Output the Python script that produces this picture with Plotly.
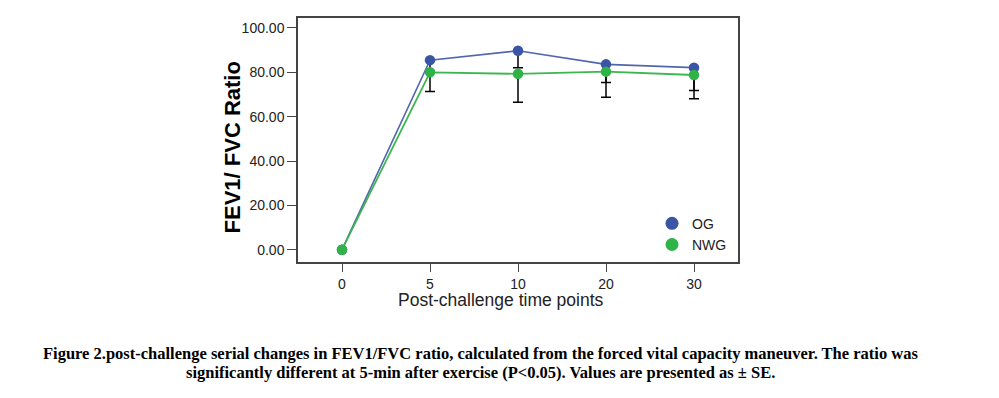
import plotly.graph_objects as go

# ---- data ----
time_points = ["0", "5", "10", "20", "30"]
og_values = [0.0, 85.5, 89.7, 83.6, 82.1]
nwg_values = [0.0, 80.0, 79.3, 80.3, 78.8]
og_se_minus = [0.0, 5.0, 7.6, 8.2, 10.3]
nwg_se_minus = [0.0, 8.7, 12.8, 11.6, 10.7]
series_names = ["OG", "NWG"]
y_ticks = [0, 20, 40, 60, 80, 100]

caption_line1 = ("Figure 2.post-challenge serial changes in FEV1/FVC ratio, calculated from the forced "
                 "vital capacity maneuver. The ratio was")
caption_line2 = "significantly different at 5-min after exercise (P<0.05). Values are presented as ± SE."

BLUE = "#3b55a6"
GREEN = "#2fb347"
SANS = "Liberation Sans, Arial, sans-serif"
SERIF = "Liberation Serif, Times New Roman, serif"

# page body has a default 8px margin: work in window pixels, shift by OFF
OFF = 8
W, H = 999 - OFF, 398 - OFF
L, R, T, B = 298 - OFF, 261, 16 - OFF, 136
pw, ph = W - L - R, H - T - B


def px_x(x):
    return (x - OFF - L) / pw


def px_y(y):
    return (H - B - (y - OFF)) / ph


fig = go.Figure()


def err(minus):
    return dict(type="data", symmetric=False, array=[0] * len(minus), arrayminus=minus,
                color="black", thickness=1.5, width=5, visible=True)


fig.add_trace(go.Scatter(
    x=time_points, y=og_values, mode="lines+markers", name=series_names[0],
    line=dict(color="#5067ad", width=1.6),
    marker=dict(color=BLUE, size=10.5),
    error_y=err(og_se_minus), showlegend=False))
fig.add_trace(go.Scatter(
    x=time_points, y=nwg_values, mode="lines+markers", name=series_names[1],
    line=dict(color="#3cb64f", width=1.8),
    marker=dict(color=GREEN, size=10.5),
    error_y=err(nwg_se_minus), showlegend=False))

# legend-only entries (markers only)
fig.add_trace(go.Scatter(x=[None], y=[None], mode="markers", name=series_names[0],
                         marker=dict(color=BLUE, size=13)))
fig.add_trace(go.Scatter(x=[None], y=[None], mode="markers", name=series_names[1],
                         marker=dict(color=GREEN, size=13)))

fig.update_layout(
    width=W, height=H,
    margin=dict(l=L, r=R, t=T, b=B),
    paper_bgcolor="white", plot_bgcolor="white",
    font=dict(family=SANS, color="#222222", size=14),
    showlegend=True,
    legend=dict(x=px_x(652), y=px_y(234), xanchor="left", yanchor="middle",
                bgcolor="rgba(0,0,0,0)", font=dict(size=14, color="#222222"),
                itemsizing="trace", tracegroupgap=0),
    xaxis=dict(type="category", range=[-0.5, 4.5], showgrid=False, zeroline=False,
               showline=True, linecolor="#444444", linewidth=1.5, mirror=True,
               ticks="outside", ticklen=8, tickwidth=1.2, tickcolor="#444444",
               tickfont=dict(size=14, color="#222222")),
    yaxis=dict(range=[-5.55, 104.5], tickvals=y_ticks, tickformat=".2f",
               showgrid=False, zeroline=False,
               showline=True, linecolor="#444444", linewidth=1.5, mirror=True,
               ticks="outside", ticklen=9, tickwidth=1.2, tickcolor="#444444",
               tickfont=dict(size=14, color="#222222")),
)

annotations = [
    dict(text="FEV1/ FVC Ratio", textangle=-90, xref="paper", yref="paper",
         x=px_x(232), y=px_y(146.5), xanchor="center", yanchor="middle", showarrow=False,
         font=dict(family=SANS, size=22, color="black", weight="bold")),
    dict(text="Post-challenge time points", xref="paper", yref="paper",
         x=px_x(500), y=px_y(300), xanchor="center", yanchor="middle", showarrow=False,
         font=dict(family=SANS, size=17.5, color="#222222")),
    dict(text="*", xref="x", yref="y", x=time_points[2], y=99.7, showarrow=False,
         xanchor="center", yanchor="middle", font=dict(family=SANS, size=15, color="#333333")),
    dict(text=caption_line1, xref="paper", yref="paper",
         x=px_x(480), y=px_y(354), xanchor="center", yanchor="middle", showarrow=False,
         font=dict(family=SERIF, size=16.5, color="black", weight="bold")),
    dict(text=caption_line2, xref="paper", yref="paper",
         x=px_x(480), y=px_y(373.5), xanchor="center", yanchor="middle", showarrow=False,
         font=dict(family=SERIF, size=16.5, color="black", weight="bold")),
]
fig.update_layout(annotations=annotations)

fig.write_html("out.html")
